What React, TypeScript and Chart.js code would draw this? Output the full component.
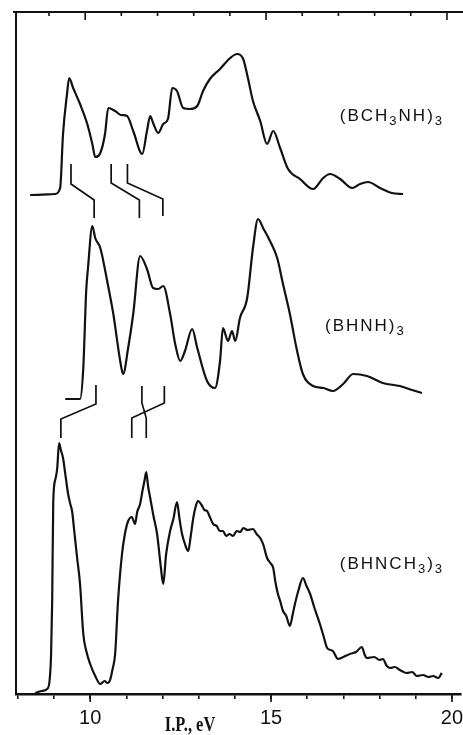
import React, { useEffect, useRef } from "react";
import { Chart, registerables } from "chart.js";

Chart.register(...registerables);

// ---- data (ionization potential in eV, relative intensity with stacking offset) ----
const xTickLabels = [10, 15, 20];
const compoundNames = ["(BCH3NH)3", "(BHNH)3", "(BHNCH3)3"];

const bch3nhEnergy = [8.34, 9.03, 9.17, 9.25, 9.36, 9.42, 9.53, 9.72, 9.92, 10.06, 10.14, 10.28, 10.41, 10.5, 10.69, 10.85, 11.02, 11.19, 11.44, 11.57, 11.66, 11.74, 11.88, 12.02, 12.15, 12.27, 12.4, 12.57, 12.76, 12.96, 13.12, 13.31, 13.59, 13.87, 14.06, 14.23, 14.36, 14.5, 14.7, 14.89, 15.06, 15.25, 15.47, 15.8, 16.16, 16.44, 16.63, 16.91, 17.24, 17.46, 17.68, 18.01, 18.34, 18.65];
const bch3nhIntensity = [499, 500, 506, 560, 600, 616, 606, 590, 570, 550, 537, 541, 560, 586, 583, 579, 578, 563, 540, 563, 578, 571, 561, 570, 575, 606, 603, 586, 585, 588, 603, 615, 625, 636, 640, 635, 616, 593, 573, 550, 563, 546, 525, 515, 505, 516, 520, 515, 506, 510, 512, 506, 501, 500];

const bhnhEnergy = [9.31, 9.72, 9.81, 9.89, 9.94, 10.06, 10.14, 10.28, 10.47, 10.64, 10.83, 10.91, 11.05, 11.19, 11.38, 11.57, 11.74, 11.88, 12.02, 12.21, 12.35, 12.49, 12.62, 12.82, 12.96, 13.23, 13.45, 13.59, 13.67, 13.81, 13.92, 14.01, 14.14, 14.34, 14.5, 14.64, 14.78, 14.97, 15.17, 15.33, 15.52, 15.72, 15.88, 16.16, 16.45, 16.71, 16.99, 17.27, 17.65, 18.09, 18.56, 18.9, 19.17];
const bhnhIntensity = [295, 295, 326, 403, 426, 468, 456, 446, 413, 380, 333, 320, 346, 380, 438, 425, 406, 405, 408, 380, 350, 333, 343, 365, 346, 313, 306, 333, 366, 353, 363, 353, 376, 396, 446, 475, 466, 453, 436, 410, 380, 343, 320, 308, 306, 303, 310, 320, 318, 311, 308, 304, 301];

const bhnch3Energy = [8.48, 8.65, 8.81, 8.88, 8.92, 8.95, 8.98, 9.04, 9.09, 9.14, 9.19, 9.25, 9.32, 9.39, 9.45, 9.5, 9.56, 9.64, 9.72, 9.81, 9.9, 10.0, 10.14, 10.28, 10.4, 10.48, 10.55, 10.62, 10.69, 10.77, 10.88, 10.96, 11.05, 11.15, 11.24, 11.3, 11.38, 11.45, 11.5, 11.55, 11.6, 11.66, 11.75, 11.85, 11.95, 12.02, 12.1, 12.21, 12.3, 12.4, 12.47, 12.54, 12.62, 12.71, 12.78, 12.85, 12.92, 12.98, 13.08, 13.16, 13.23, 13.32, 13.4, 13.5, 13.58, 13.67, 13.76, 13.85, 13.95, 14.05, 14.15, 14.23, 14.35, 14.5, 14.6, 14.7, 14.78, 14.89, 14.98, 15.06, 15.12, 15.19, 15.26, 15.33, 15.42, 15.52, 15.6, 15.66, 15.76, 15.88, 15.98, 16.08, 16.2, 16.35, 16.45, 16.55, 16.65, 16.71, 16.85, 17.0, 17.18, 17.35, 17.51, 17.58, 17.65, 17.85, 18.0, 18.09, 18.2, 18.29, 18.42, 18.56, 18.75, 18.9, 19.03, 19.2, 19.35, 19.48, 19.62, 19.72];
const bhnch3Intensity = [1, 3, 5, 14, 40, 93, 193, 215, 226, 251, 244, 236, 218, 200, 190, 183, 163, 136, 110, 60, 42, 30, 18, 10, 13, 11, 14, 25, 40, 93, 140, 160, 173, 177, 170, 182, 190, 204, 213, 222, 208, 196, 178, 160, 128, 110, 140, 163, 175, 192, 175, 160, 150, 143, 158, 176, 188, 193, 189, 184, 183, 176, 170, 168, 163, 163, 158, 160, 158, 163, 162, 166, 164, 165, 160, 156, 150, 136, 131, 126, 112, 100, 92, 83, 78, 68, 80, 90, 104, 116, 108, 100, 86, 70, 58, 46, 44, 43, 35, 37, 40, 42, 47, 40, 36, 37, 34, 35, 28, 26, 27, 24, 21, 22, 18, 19, 17, 18, 16, 21];

// correlation lines between the spectra (energy, intensity)
const corrEnergies = [
  [9.47, 9.47, 10.11, 10.11],
  [10.58, 10.58, 11.36, 11.36],
  [11.03, 11.03, 12.01, 12.01],
  [10.16, 10.16, 9.19, 9.19],
  [11.43, 11.43, 11.55, 11.55],
  [12.05, 12.05, 11.15, 11.15],
];
const corrIntensities = [
  [530, 510, 494, 476],
  [530, 511, 494, 476],
  [530, 511, 495, 478],
  [309, 290, 275, 256],
  [308, 291, 276, 256],
  [308, 291, 276, 256],
];

// label text split into (text, subscript) segments
const labelSegments: [string, boolean][][] = [
  [["(BCH", false], ["3", true], ["NH)", false], ["3", true]],
  [["(BHNH)", false], ["3", true]],
  [["(BHNCH", false], ["3", true], [")", false], ["3", true]],
];
const labelEnergy = [16.9, 16.49, 16.9];
const labelIntensity = [573, 363, 125];
const axisTitle = "I.P., eV";

const toPoints = (xs: number[], ys: number[]) => xs.map((x, i) => ({ x, y: ys[i] }));

const overlay = {
  id: "overlay",
  afterDraw(chart: any) {
    const { ctx, chartArea, scales } = chart;
    const xs = scales.x;
    const ys = scales.y;
    ctx.save();
    ctx.strokeStyle = "#111";
    // top frame with inward ticks
    ctx.lineWidth = 2;
    ctx.beginPath();
    ctx.moveTo(chartArea.left - 3, chartArea.top);
    ctx.lineTo(chart.width, chartArea.top);
    ctx.stroke();
    ctx.lineWidth = 1.6;
    ctx.beginPath();
    for (let v = 9; v <= 20; v++) {
      const px = xs.getPixelForValue(v) - 5;
      const len = xTickLabels.includes(v) ? 8 : 4;
      ctx.moveTo(px, chartArea.top);
      ctx.lineTo(px, chartArea.top + len);
    }
    // longer major ticks on the bottom axis
    xTickLabels.forEach((v) => {
      const px = xs.getPixelForValue(v);
      ctx.moveTo(px, chartArea.bottom);
      ctx.lineTo(px, chartArea.bottom + 8);
    });
    ctx.stroke();

    // compound labels
    ctx.fillStyle = "#111";
    ctx.textAlign = "left";
    ctx.textBaseline = "alphabetic";
    labelSegments.forEach((segs, i) => {
      let cx = xs.getPixelForValue(labelEnergy[i]);
      const by = ys.getPixelForValue(labelIntensity[i]);
      segs.forEach(([t, sub]) => {
        ctx.font = sub ? '13px "Liberation Sans"' : '17px "Liberation Sans"';
        for (const ch of t) {
          ctx.fillText(ch, cx, sub ? by + 4 : by);
          cx += ctx.measureText(ch).width + 2;
        }
      });
    });

    // axis title (condensed bold serif)
    ctx.font = 'bold 20px "Liberation Serif"';
    ctx.textAlign = "center";
    ctx.translate(xs.getPixelForValue(12.76), chartArea.bottom + 37);
    ctx.scale(0.82, 1);
    ctx.fillText(axisTitle, 0, 0);
    ctx.restore();
  },
};

export default function App() {
  const ref = useRef<HTMLCanvasElement | null>(null);
  useEffect(() => {
    document.body.style.margin = "0";
    const canvas = ref.current;
    if (!canvas) return;
    const spectra = [
      toPoints(bch3nhEnergy, bch3nhIntensity),
      toPoints(bhnhEnergy, bhnhIntensity),
      toPoints(bhnch3Energy, bhnch3Intensity),
    ];
    const datasets: any[] = spectra.map((d, i) => ({
      label: compoundNames[i],
      data: d,
      borderColor: "#111",
      borderWidth: 2.2,
      pointRadius: 0,
      cubicInterpolationMode: "monotone",
      fill: false,
    }));
    corrEnergies.forEach((e, i) => {
      datasets.push({
        label: "corr" + i,
        data: toPoints(e, corrIntensities[i]),
        borderColor: "#111",
        borderWidth: 1.7,
        pointRadius: 0,
        tension: 0,
        fill: false,
      });
    });
    const chart = new Chart(canvas, {
      type: "line",
      data: { datasets },
      options: {
        animation: false,
        responsive: false,
        devicePixelRatio: 1,
        layout: { padding: { top: 12, right: 2, left: 0, bottom: 0 }, autoPadding: false },
        plugins: { legend: { display: false }, tooltip: { enabled: false } },
        scales: {
          x: {
            type: "linear",
            min: 7.95,
            max: 20.25,
            position: "bottom",
            afterFit: (s: any) => {
              s.height = 41;
              s.paddingLeft = 0;
              s.paddingRight = 0;
            },
            border: { display: true, color: "#111", width: 2.5 },
            grid: { display: true, drawOnChartArea: false, drawTicks: true, tickLength: 5, color: "#111", lineWidth: 1.6 },
            ticks: {
              stepSize: 1,
              autoSkip: false,
              includeBounds: false,
              maxRotation: 0,
              padding: 7,
              color: "#111",
              font: { family: "Liberation Sans", size: 20 },
              callback: (v: any) => (xTickLabels.includes(Number(v)) ? String(v) : ""),
            },
          },
          y: {
            type: "linear",
            min: 0,
            max: 682,
            afterFit: (s: any) => {
              s.width = 16;
              s.paddingTop = 0;
              s.paddingBottom = 0;
            },
            border: { display: true, color: "#111", width: 2 },
            grid: { display: false, drawTicks: false },
            ticks: { display: false },
          },
        },
      } as any,
      plugins: [overlay],
    });
    return () => chart.destroy();
  }, []);
  return (
    <div style={{ width: 463, height: 735, background: "#fff" }}>
      <canvas ref={ref} width={463} height={735} />
    </div>
  );
}
